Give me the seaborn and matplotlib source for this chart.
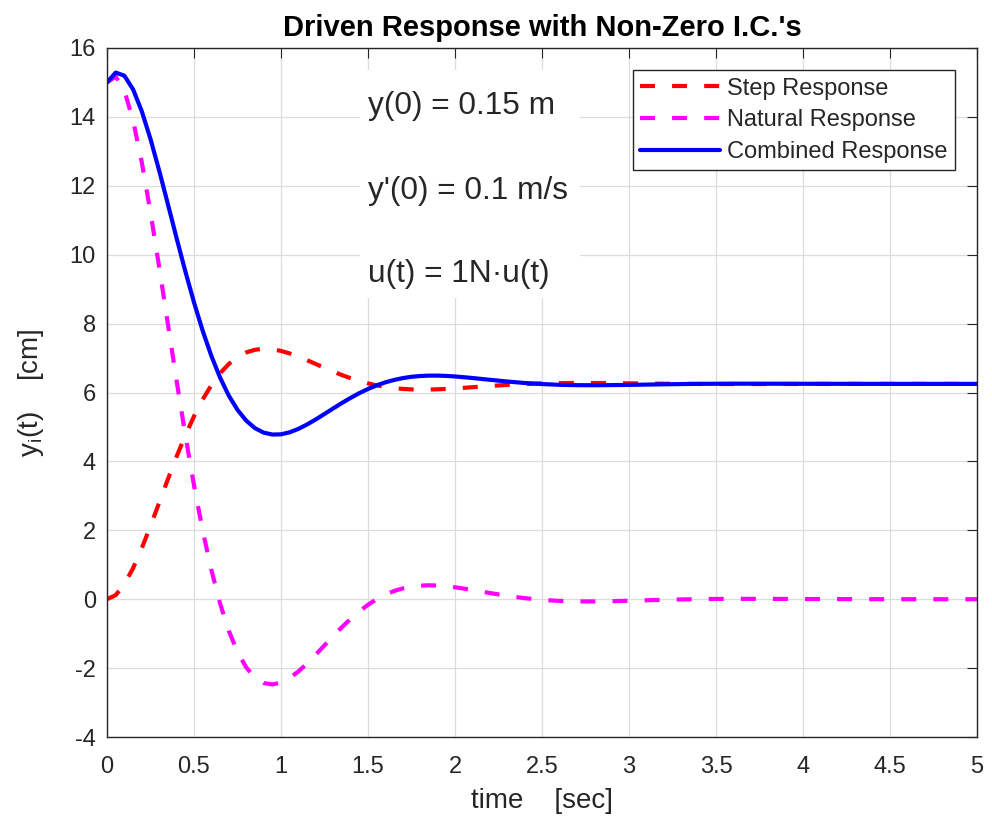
import matplotlib
matplotlib.use('Agg')
import matplotlib.pyplot as plt
import seaborn as sns
from matplotlib.patches import Rectangle

# ---- data (time in s, displacement in cm) ----
t = [0.00, 0.05, 0.10, 0.15, 0.20, 0.25, 0.30, 0.35, 0.40, 0.45,
     0.50, 0.55, 0.60, 0.65, 0.70, 0.75, 0.80, 0.85, 0.90, 0.95,
     1.00, 1.05, 1.10, 1.15, 1.20, 1.25, 1.30, 1.35, 1.40, 1.45,
     1.50, 1.55, 1.60, 1.65, 1.70, 1.75, 1.80, 1.85, 1.90, 1.95,
     2.00, 2.10, 2.20, 2.30, 2.40, 2.50, 2.60, 2.70, 2.80, 2.90,
     3.00, 3.20, 3.40, 3.60, 3.80, 4.00, 4.50, 5.00]

step_response = [0.000, 0.117, 0.434, 0.904, 1.482, 2.127, 2.804, 3.483, 4.139, 4.753,
                 5.309, 5.798, 6.215, 6.558, 6.828, 7.027, 7.163, 7.240, 7.269, 7.255,
                 7.207, 7.133, 7.041, 6.937, 6.827, 6.716, 6.608, 6.507, 6.415, 6.334,
                 6.264, 6.207, 6.161, 6.127, 6.104, 6.090, 6.084, 6.086, 6.093, 6.104,
                 6.119, 6.153, 6.189, 6.221, 6.246, 6.264, 6.273, 6.277, 6.276, 6.272,
                 6.266, 6.255, 6.248, 6.246, 6.246, 6.248, 6.250, 6.250]

natural_response = [15.000, 15.170, 14.761, 13.893, 12.680, 11.229, 9.635, 7.983, 6.341, 4.767,
                    3.307, 1.991, 0.844, -0.128, -0.919, -1.532, -1.979, -2.274, -2.433, -2.475,
                    -2.421, -2.288, -2.097, -1.865, -1.608, -1.339, -1.070, -0.812, -0.571, -0.353,
                    -0.162, 0.001, 0.134, 0.238, 0.314, 0.366, 0.394, 0.404, 0.397, 0.377,
                    0.347, 0.268, 0.180, 0.098, 0.030, -0.019, -0.050, -0.064, -0.065, -0.057,
                    -0.045, -0.017, 0.003, 0.010, 0.009, 0.005, 0.000, 0.000]

combined_response = [15.000, 15.287, 15.195, 14.797, 14.162, 13.356, 12.439, 11.466, 10.480, 9.520,
                     8.616, 7.789, 7.059, 6.430, 5.909, 5.495, 5.184, 4.966, 4.836, 4.780,
                     4.786, 4.845, 4.944, 5.072, 5.219, 5.377, 5.538, 5.695, 5.844, 5.981,
                     6.102, 6.208, 6.295, 6.365, 6.418, 6.456, 6.478, 6.490, 6.490, 6.481,
                     6.466, 6.421, 6.369, 6.319, 6.276, 6.245, 6.223, 6.213, 6.211, 6.215,
                     6.221, 6.238, 6.251, 6.256, 6.255, 6.253, 6.250, 6.250]

series_labels = ["Step Response", "Natural Response", "Combined Response"]
x_ticks = [0, 0.5, 1, 1.5, 2, 2.5, 3, 3.5, 4, 4.5, 5]
x_tick_labels = ["0", "0.5", "1", "1.5", "2", "2.5", "3", "3.5", "4", "4.5", "5"]
y_ticks = [-4, -2, 0, 2, 4, 6, 8, 10, 12, 14, 16]
annotations = ["y(0) = 0.15 m", "y'(0) = 0.1 m/s", "u(t) = 1N\u00b7u(t)"]
annotation_y = [14.33, 11.85, 9.45]

# ---- style ----
sns.set_theme(style='white')
plt.rcParams['font.family'] = ['Liberation Sans', 'DejaVu Sans']
plt.rcParams['mathtext.default'] = 'regular'
dark = '#262626'

fig = plt.figure(figsize=(9.92, 8.17), dpi=100)
fig.patch.set_facecolor('white')
ax = fig.add_axes([107 / 992, 80 / 817, 870 / 992, 689 / 817])
ax.set_facecolor('white')

ax.grid(True, color='#dcdcdc', lw=0.9)
ax.set_axisbelow(True)

# white box behind the annotation text
ax.add_patch(Rectangle((0.2908, 0.6372), 0.2529, 0.3308, transform=ax.transAxes,
                       facecolor='white', edgecolor='none', zorder=1))

dash = (0, (3.6, 4.1))
sns.lineplot(x=t, y=step_response, ax=ax, color='#ff0000', lw=3, linestyle=dash,
             label=series_labels[0], sort=False, estimator=None)
sns.lineplot(x=t, y=natural_response, ax=ax, color='#ff00ff', lw=3, linestyle=dash,
             label=series_labels[1], sort=False, estimator=None)
sns.lineplot(x=t, y=combined_response, ax=ax, color='#0000ff', lw=3, linestyle='-',
             label=series_labels[2], sort=False, estimator=None)
for ln in ax.lines:
    ln.set_dash_capstyle('butt')

for txt, yy in zip(annotations, annotation_y):
    ax.text(1.5, yy, txt, fontsize=22.8, color=dark, ha='left', va='center', zorder=3)

ax.set_xlim(0, 5)
ax.set_ylim(-4, 16)
ax.set_xticks(x_ticks)
ax.set_xticklabels(x_tick_labels)
ax.set_yticks(y_ticks)
ax.set_yticklabels([str(v) for v in y_ticks])
ax.tick_params(direction='in', length=7, width=0.8, top=True, right=True,
               labelsize=17, colors=dark)
ax.tick_params(axis='y', pad=8)
ax.tick_params(axis='x', pad=14)
for sp in ax.spines.values():
    sp.set_color(dark)
    sp.set_linewidth(1.0)

ax.set_title("Driven Response with Non-Zero I.C.'s", fontsize=21, fontweight='bold',
             color='black', pad=9)
ax.set_xlabel('time    [sec]', fontsize=20, color=dark, labelpad=7)
ax.set_ylabel('y$_i$(t)    [cm]', fontsize=20, color=dark, labelpad=17)

leg = ax.legend(loc='upper right', fontsize=17, frameon=True, fancybox=False,
                edgecolor=dark, framealpha=1, handlelength=3.4, handletextpad=0.3,
                labelspacing=0.42, borderpad=0.3, borderaxespad=0.95)
leg.get_frame().set_linewidth(1.0)
for txt in leg.get_texts():
    txt.set_color(dark)

fig.savefig('out.png', dpi=100)
